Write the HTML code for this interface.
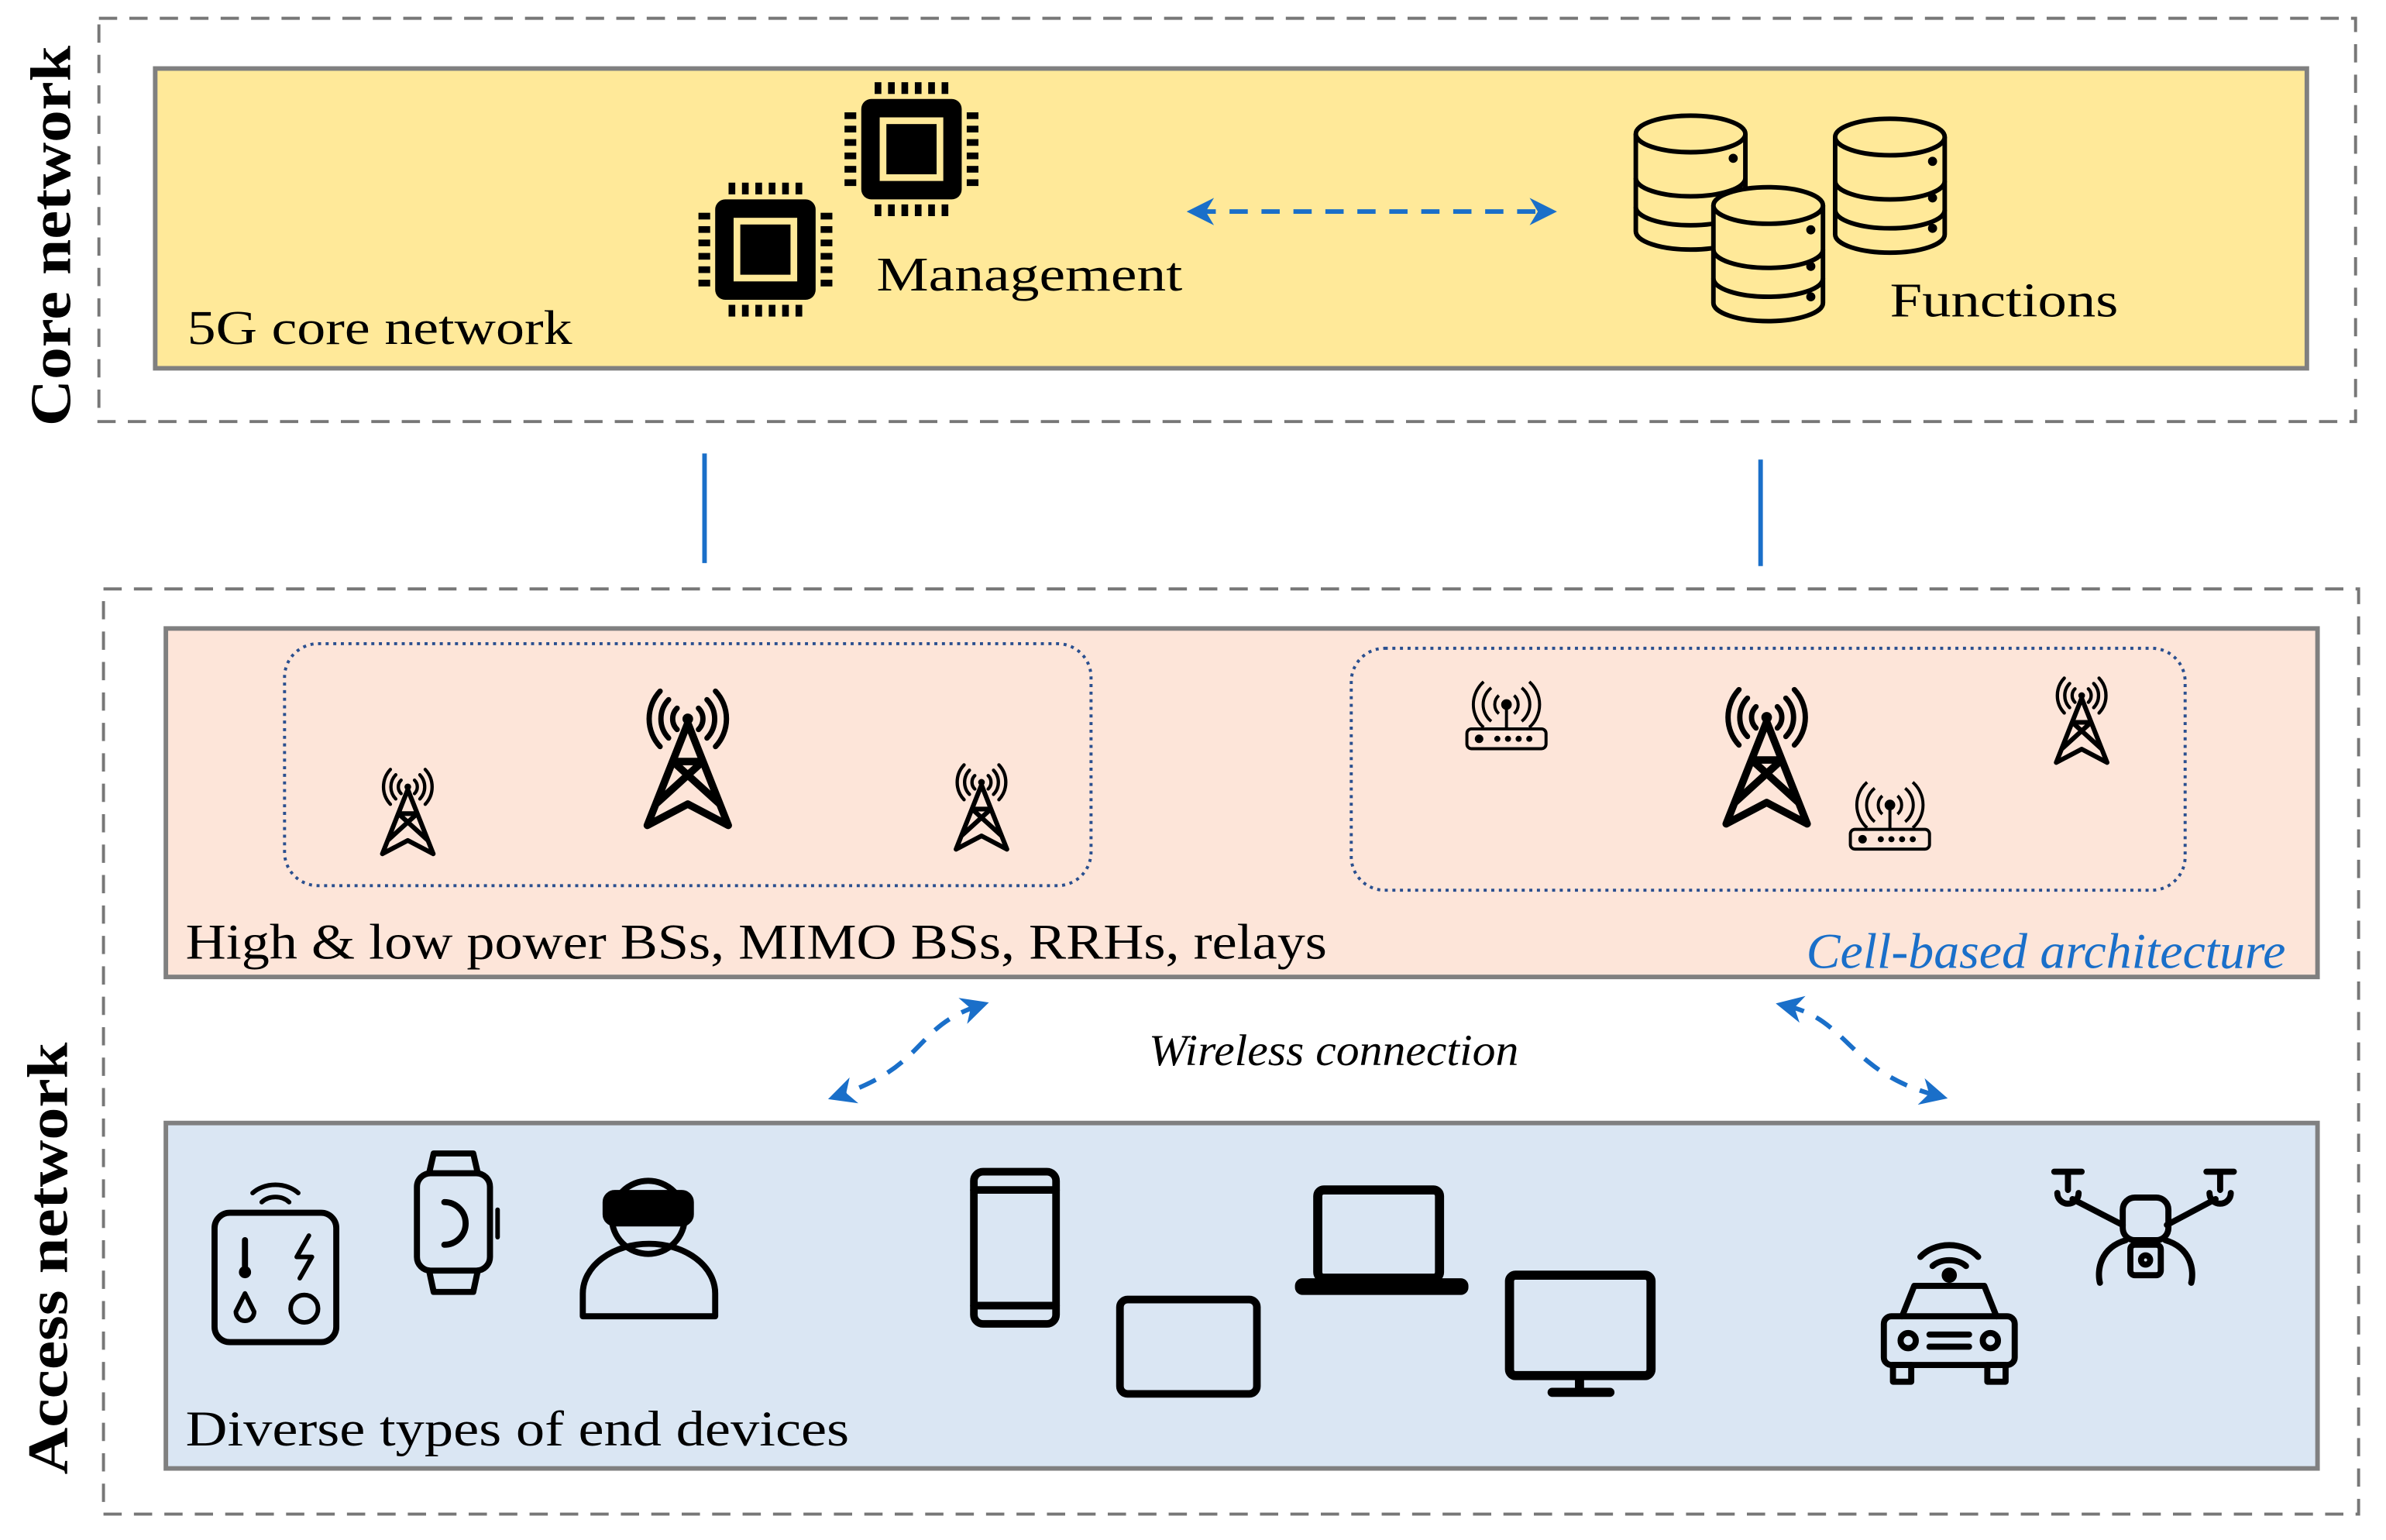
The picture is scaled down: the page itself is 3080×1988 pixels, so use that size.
<!DOCTYPE html>
<html><head><meta charset="utf-8"><style>html,body{margin:0;padding:0;background:#fff}svg{display:block}</style></head>
<body>
<svg width="3080" height="1988" viewBox="0 0 1568 1012" xmlns="http://www.w3.org/2000/svg" font-family="'Liberation Serif', serif">
<defs>
<g id="tower" fill="none" stroke="#000" stroke-linecap="round">
  <circle cx="50" cy="32" r="5" fill="#000" stroke="none"/>
  <path d="M40,22 A14,14 0 0 0 40,42 M60,22 A14,14 0 0 1 60,42" stroke-width="5"/>
  <path d="M32,14 A26,26 0 0 0 32,50 M68,14 A26,26 0 0 1 68,50" stroke-width="5"/>
  <path d="M24,6 A38,38 0 0 0 24,58 M76,6 A38,38 0 0 1 76,58" stroke-width="5"/>
  <path d="M50,36 L12,132 M50,36 L88,132 M36,72 L80,112 M64,72 L20,112 M36,72 L64,72 M12,132 L50,112 L88,132" stroke-width="7" stroke-linejoin="round"/>
</g>
<g id="chip">
  <rect x="10" y="10" width="60" height="60" rx="6" fill="#000"/>
  <rect x="21" y="21" width="38" height="38" fill="#FFE999"/>
  <rect x="25" y="25" width="30" height="30" fill="#000"/>
  <g fill="#000">
    <rect x="18" y="0" width="4" height="7"/><rect x="26" y="0" width="4" height="7"/><rect x="34" y="0" width="4" height="7"/><rect x="42" y="0" width="4" height="7"/><rect x="50" y="0" width="4" height="7"/><rect x="58" y="0" width="4" height="7"/>
    <rect x="18" y="73" width="4" height="7"/><rect x="26" y="73" width="4" height="7"/><rect x="34" y="73" width="4" height="7"/><rect x="42" y="73" width="4" height="7"/><rect x="50" y="73" width="4" height="7"/><rect x="58" y="73" width="4" height="7"/>
    <rect x="0" y="18" width="7" height="4"/><rect x="0" y="26" width="7" height="4"/><rect x="0" y="34" width="7" height="4"/><rect x="0" y="42" width="7" height="4"/><rect x="0" y="50" width="7" height="4"/><rect x="0" y="58" width="7" height="4"/>
    <rect x="73" y="18" width="7" height="4"/><rect x="73" y="26" width="7" height="4"/><rect x="73" y="34" width="7" height="4"/><rect x="73" y="42" width="7" height="4"/><rect x="73" y="50" width="7" height="4"/><rect x="73" y="58" width="7" height="4"/>
  </g>
</g>
<g id="db" fill="#FFE999" stroke="#000" stroke-width="3">
  <path d="M0,12 L0,76 A36,12 0 0 0 72,76 L72,12"/>
  <path d="M0,41 A36,12 0 0 0 72,41 M0,60 A36,12 0 0 0 72,60" fill="none"/>
  <ellipse cx="36" cy="12" rx="36" ry="12"/>
  <circle cx="64" cy="28" r="1.5" fill="#000"/><circle cx="64" cy="52" r="1.5" fill="#000"/><circle cx="64" cy="72" r="1.5" fill="#000"/>
</g>
<g id="router" fill="none" stroke="#000" stroke-width="2">
  <rect x="0" y="32" width="52" height="13" rx="3"/>
  <line x1="26" y1="16" x2="26" y2="32"/><circle cx="26" cy="16" r="2.5" fill="#000"/>
  <path d="M21,10 A8,8 0 0 0 21,22 M31,10 A8,8 0 0 1 31,22 M16,5 A14,14 0 0 0 16,27 M36,5 A14,14 0 0 1 36,27 M11,1 A20,20 0 0 0 11,31 M41,1 A20,20 0 0 1 41,31"/>
  <circle cx="8" cy="38.5" r="1.8" fill="#000"/><circle cx="20" cy="38.5" r="1" fill="#000"/><circle cx="27" cy="38.5" r="1" fill="#000"/><circle cx="34" cy="38.5" r="1" fill="#000"/><circle cx="41" cy="38.5" r="1" fill="#000"/>
</g>
<marker id="ah" viewBox="0 0 10 10" refX="6" refY="5" markerWidth="6" markerHeight="6" orient="auto-start-reverse"><path d="M0,0 L10,5 L0,10 L3,5z" fill="#1a6fc9"/></marker>
</defs>

<!-- Core network -->
<rect x="65" y="12" width="1483" height="265" fill="none" stroke="#777" stroke-width="2" stroke-dasharray="12,8"/>
<rect x="102" y="45" width="1414" height="197" fill="#FFE999" stroke="#808080" stroke-width="3"/>
<text transform="translate(46,155) rotate(-90)" font-size="38" font-weight="bold" text-anchor="middle" textLength="250" lengthAdjust="spacingAndGlyphs">Core network</text>
<text x="123" y="226" font-size="32" textLength="253" lengthAdjust="spacingAndGlyphs">5G core network</text>
<text x="576" y="191" font-size="32" textLength="201" lengthAdjust="spacingAndGlyphs">Management</text>
<text x="1242" y="208" font-size="32" textLength="150" lengthAdjust="spacingAndGlyphs">Functions</text>
<use href="#chip" transform="translate(555,54) scale(1.1)"/>
<use href="#chip" transform="translate(459,120) scale(1.1)"/>
<use href="#db" transform="translate(1075,76)"/>
<use href="#db" transform="translate(1206,78)"/>
<use href="#db" transform="translate(1126,123)"/>
<line x1="787" y1="139" x2="1016" y2="139" stroke="#1a6fc9" stroke-width="3" stroke-dasharray="12,9" marker-start="url(#ah)" marker-end="url(#ah)"/>

<line x1="463" y1="298" x2="463" y2="370" stroke="#1a6fc9" stroke-width="3"/>
<line x1="1157" y1="302" x2="1157" y2="372" stroke="#1a6fc9" stroke-width="3"/>

<!-- Access network -->
<rect x="68" y="387" width="1482" height="608" fill="none" stroke="#777" stroke-width="2" stroke-dasharray="12,8"/>
<text transform="translate(44,827) rotate(-90)" font-size="38" font-weight="bold" text-anchor="middle" textLength="284" lengthAdjust="spacingAndGlyphs">Access network</text>
<rect x="109" y="413" width="1414" height="229" fill="#FDE5D9" stroke="#808080" stroke-width="3"/>
<rect x="187" y="423" width="530" height="159" rx="22" fill="none" stroke="#2a4f8f" stroke-width="2" stroke-dasharray="2,3"/>
<rect x="888" y="426" width="548" height="159" rx="22" fill="none" stroke="#2a4f8f" stroke-width="2" stroke-dasharray="2,3"/>
<use href="#tower" transform="translate(417,450) scale(0.7)"/>
<use href="#tower" transform="translate(246,503) scale(0.44)"/>
<use href="#tower" transform="translate(623,500) scale(0.44)"/>
<use href="#tower" transform="translate(1126,449) scale(0.7)"/>
<use href="#tower" transform="translate(1346,443) scale(0.44)"/>
<use href="#router" transform="translate(964,447)"/>
<use href="#router" transform="translate(1216,513)"/>
<text x="122" y="630" font-size="33" textLength="750" lengthAdjust="spacingAndGlyphs">High &amp; low power BSs, MIMO BSs, RRHs, relays</text>
<text x="1187" y="636" font-size="33" font-style="italic" fill="#1a6fc9" textLength="315" lengthAdjust="spacingAndGlyphs">Cell-based architecture</text>

<text x="755" y="700" font-size="29" font-style="italic" textLength="243" lengthAdjust="spacingAndGlyphs">Wireless connection</text>
<path d="M643,661 C600,675 610,700 551,720" fill="none" stroke="#1a6fc9" stroke-width="3" stroke-dasharray="12,9" marker-start="url(#ah)" marker-end="url(#ah)"/>
<path d="M1174,661 C1215,670 1215,705 1273,720" fill="none" stroke="#1a6fc9" stroke-width="3" stroke-dasharray="12,9" marker-start="url(#ah)" marker-end="url(#ah)"/>

<rect x="109" y="738" width="1414" height="227" fill="#DAE6F3" stroke="#808080" stroke-width="3"/>
<text x="122" y="950" font-size="33" textLength="436" lengthAdjust="spacingAndGlyphs">Diverse types of end devices</text>

<!-- devices -->
<g fill="none" stroke="#000" stroke-width="4" stroke-linecap="round" stroke-linejoin="round">
  <rect x="141" y="797" width="80" height="85" rx="10"/>
  <path d="M172,790 A12,10 0 0 1 190,790 M166,784 A20,16 0 0 1 196,784" stroke-width="3"/>
  <path d="M161,815 L161,832" stroke-width="4"/><circle cx="161" cy="836" r="4" fill="#000" stroke="none"/>
  <path d="M203,812 L195,826 L205,826 L197,840" stroke-width="3"/>
  <path d="M161,850 L155,862 A6,6 0 0 0 167,862 Z" stroke-width="3"/>
  <circle cx="200" cy="860" r="9" stroke-width="3"/>
  <rect x="274" y="771" width="48" height="64" rx="9"/>
  <path d="M282,771 L285,758 L311,758 L314,771 M282,835 L285,849 L311,849 L314,835"/>
  <path d="M292,790 A14,14 0 1 1 292,818" stroke-width="4"/>
  <line x1="327" y1="795" x2="327" y2="813" stroke-width="3"/>
  <path d="M383,865 L383,850 A40,30 0 0 1 470,850 L470,865 Z"/>
  <circle cx="426" cy="800" r="24"/>
  <rect x="398" y="784" width="56" height="20" rx="6" fill="#000"/>
  <rect x="640" y="770" width="54" height="100" rx="6" stroke-width="5"/>
  <line x1="640" y1="782" x2="694" y2="782" stroke-width="5"/><line x1="640" y1="858" x2="694" y2="858" stroke-width="5"/>
  <rect x="736" y="854" width="90" height="62" rx="5" stroke-width="5"/>
  <rect x="866" y="782" width="80" height="58" rx="4" stroke-width="6"/>
  <rect x="853" y="842" width="110" height="7" rx="3" fill="#000"/>
  <rect x="992" y="838" width="93" height="66" rx="4" stroke-width="6"/>
  <path d="M1038,905 L1038,912 M1020,915 L1058,915" stroke-width="6"/>
  <path d="M1262,826 A24,20 0 0 1 1300,826 M1270,832 A14,10 0 0 1 1292,832"/>
  <circle cx="1281" cy="838" r="3" fill="#000"/>
  <path d="M1250,865 L1258,845 L1304,845 L1312,865"/>
  <rect x="1238" y="865" width="86" height="32" rx="5"/>
  <rect x="1244" y="897" width="12" height="11"/><rect x="1306" y="897" width="12" height="11"/>
  <circle cx="1254" cy="881" r="5"/><circle cx="1308" cy="881" r="5"/>
  <path d="M1268,877 L1294,877 M1268,885 L1294,885"/>
  <path d="M1350,770 L1368,770 M1450,770 L1468,770 M1359,770 L1359,782 M1459,770 L1459,782"/>
  <path d="M1352,784 A6,6 0 0 0 1366,784 M1452,784 A6,6 0 0 0 1466,784"/>
  <path d="M1362,788 L1395,805 M1456,788 L1424,805"/>
  <rect x="1395" y="787" width="30" height="28" rx="8"/>
  <path d="M1397,815 C1380,820 1378,835 1380,843 M1423,815 C1440,820 1442,835 1440,843"/>
  <rect x="1400" y="818" width="20" height="20" rx="3"/>
  <circle cx="1410" cy="828" r="3"/>
</g>
</svg>
</body></html>
